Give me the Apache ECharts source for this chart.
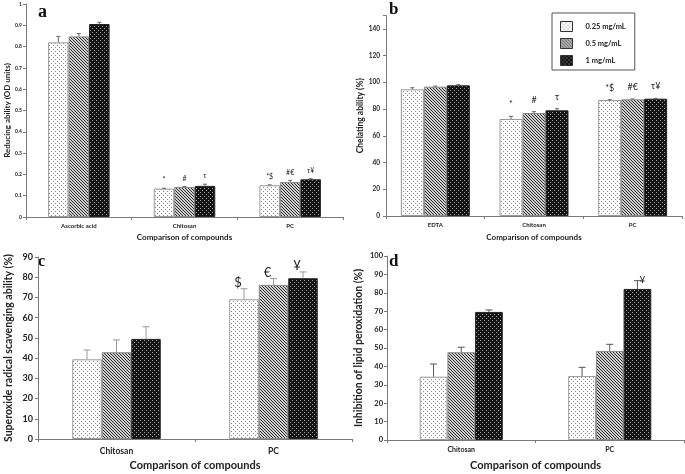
<!DOCTYPE html>
<html><head><meta charset="utf-8">
<script src="https://cdn.jsdelivr.net/npm/echarts@6/dist/echarts.min.js"></script>
<style>html,body{margin:0;padding:0;background:#fff}#c{width:685px;height:474px}</style>
</head><body><div id="c"></div>
<script>
// ---------- data ----------
const seriesNames = ['0.25 mg/mL', '0.5 mg/mL', '1 mg/mL'];

// Panel a: reducing ability
const catsA = ['Ascorbic acid', 'Chitosan', 'PC'];
const a025 = [0.82, 0.133, 0.149];
const a05 = [0.848, 0.141, 0.164];
const a1 = [0.906, 0.146, 0.177];
const errA025 = [0.028, 0.002, 0.002];
const errA05 = [0.013, 0.002, 0.008];
const errA1 = [0.008, 0.008, 0.003];
const annA025 = ['', '*', '*$'];
const annA05 = ['', '#', '#€'];
const annA1 = ['', 'τ', 'τ¥'];
const ticksA = [0, 1, 0.1];

// Panel b: chelating ability
const catsB = ['EDTA', 'Chitosan', 'PC'];
const b025 = [94.8, 72.6, 86.8];
const b05 = [96.8, 77.1, 87.3];
const b1 = [97.8, 79.1, 87.8];
const errB025 = [1.2, 2.0, 0.3];
const errB05 = [0.4, 1.0, 0.3];
const errB1 = [0.5, 1.2, 0.3];
const annB025 = ['', '*', '*$'];
const annB05 = ['', '#', '#€'];
const annB1 = ['', 'τ', 'τ¥'];
const ticksB = [0, 150, 20];

// Panel c: superoxide radical scavenging
const catsC = ['Chitosan', 'PC'];
const c025 = [39.4, 69.1];
const c05 = [42.9, 76.2];
const c1 = [49.5, 79.5];
const errC025 = [4.6, 5.2];
const errC05 = [6.1, 3.1];
const errC1 = [6.0, 3.1];
const annC025 = ['', '$'];
const annC05 = ['', '€'];
const annC1 = ['', '¥'];
const ticksC = [0, 90, 10];

// Panel d: inhibition of lipid peroxidation
const catsD = ['Chitosan', 'PC'];
const d025 = [34.4, 34.8];
const d05 = [47.7, 48.4];
const d1 = [69.6, 82.1];
const errD025 = [6.9, 4.7];
const errD05 = [2.7, 3.6];
const errD1 = [1.1, 4.5];
const annD025 = ['', ''];
const annD05 = ['', ''];
const annD1 = ['', '¥'];
const ticksD = [0, 100, 10];

// ---------- patterns ----------
function pattern(size, bg, fg, pts) {
  const cv = document.createElement('canvas');
  cv.width = size; cv.height = size;
  const ctx = cv.getContext('2d');
  ctx.fillStyle = bg; ctx.fillRect(0, 0, size, size);
  ctx.fillStyle = fg;
  pts.forEach(p => ctx.fillRect(p[0], p[1], 1, 1));
  return { image: cv, repeat: 'repeat' };
}
const fills = [
  pattern(4, '#ffffff', '#8a8a8a', [[1, 1], [3, 3]]),
  pattern(3, '#cfcfcf', '#2e2e2e', [[0, 0], [1, 1], [2, 2]]),
  pattern(4, '#141414', '#a0a0a0', [[0, 0], [2, 2]])
];
const borders = ['#9a9a9a', '#8a8a8a', '#222222'];

const FONT = 'Lato, "DejaVu Sans", sans-serif';

const panels = [
  { cats: catsA, vals: [a025, a05, a1], errs: [errA025, errA05, errA1], anns: [annA025, annA05, annA1], ticks: ticksA,
    grid: { left: 26, top: 4, width: 317, height: 213 }, bw: 20.5,
    yName: 'Reducing ability (OD units)', yNameSize: 8, yNameGap: 14, yLabSize: 5, yLabMargin: 4,
    xLabSize: 6, xLabMargin: 6, xNameSize: 8, xNameGap: 16,
    errColor: '#666', cap: 2, annSize: 7, annDx: 0, annDy: 8 },
  { cats: catsB, vals: [b025, b05, b1], errs: [errB025, errB05, errB1], anns: [annB025, annB05, annB1], ticks: ticksB,
    grid: { left: 386, top: 15.6, width: 296, height: 200.4 }, bw: 23,
    yName: 'Chelating ability (%)', yNameSize: 8.5, yNameGap: 20, yLabSize: 6.5, yLabMargin: 6,
    xLabSize: 6, xLabMargin: 6, xNameSize: 8, xNameGap: 17, hideTop: true,
    errColor: '#666', cap: 2, annSize: 9, annDx: 0, annDy: 12 },
  { cats: catsC, vals: [c025, c05, c1], errs: [errC025, errC05, errC1], anns: [annC025, annC05, annC1], ticks: ticksC,
    grid: { left: 38, top: 257, width: 314, height: 182 }, bw: 29.5,
    yName: 'Superoxide radical scavenging ability (%)', yNameSize: 10.5, yNameGap: 24, yLabSize: 9, yLabMargin: 5,
    xLabSize: 8.5, xLabMargin: 8, xNameSize: 11, xNameGap: 21,
    errColor: '#999', cap: 3.5, annSize: 13, annDx: -6, annDy: 6 },
  { cats: catsD, vals: [d025, d05, d1], errs: [errD025, errD05, errD1], anns: [annD025, annD05, annD1], ticks: ticksD,
    grid: { left: 387, top: 256, width: 297, height: 184 }, bw: 27.7,
    yName: 'Inhibition of lipid peroxidation (%)', yNameSize: 10.5, yNameGap: 23, yLabSize: 7.5, yLabMargin: 4,
    xLabSize: 7, xLabMargin: 6, xNameSize: 11, xNameGap: 20,
    errColor: '#555', cap: 3.5, annSize: 10, annDx: 5, annDy: 1 }
];

const grids = [], xAxes = [], yAxes = [], series = [];
const axisLine = { show: true, lineStyle: { color: '#7a7a7a', width: 1 } };

panels.forEach((p, pi) => {
  grids.push(Object.assign({ containLabel: false }, p.grid));
  xAxes.push({
    type: 'category', gridIndex: pi, data: p.cats,
    name: 'Comparison of compounds', nameLocation: 'middle', nameGap: p.xNameGap,
    nameTextStyle: { fontFamily: FONT, fontWeight: 'bold', fontSize: p.xNameSize, color: '#222' },
    axisLine: axisLine, axisTick: { show: true, length: 3, lineStyle: { color: '#7a7a7a' } },
    axisLabel: { fontFamily: FONT, fontWeight: 'bold', fontSize: p.xLabSize, color: '#222', margin: p.xLabMargin, interval: 0 },
    splitLine: { show: false }
  });
  yAxes.push({
    type: 'value', gridIndex: pi, min: p.ticks[0], max: p.ticks[1], interval: p.ticks[2],
    name: p.yName, nameLocation: 'middle', nameGap: p.yNameGap,
    nameTextStyle: { fontFamily: FONT, fontWeight: 'bold', fontSize: p.yNameSize, color: '#222' },
    axisLine: axisLine, axisTick: { show: true, length: 3, lineStyle: { color: '#7a7a7a' } },
    axisLabel: { fontFamily: FONT, fontWeight: 'bold', fontSize: p.yLabSize, color: '#222', margin: p.yLabMargin,
      formatter: v => (p.hideTop && v > 140) ? '' : String(Math.round(v * 10) / 10) },
    splitLine: { show: false }
  });
  for (let k = 0; k < 3; k++) {
    series.push({
      type: 'bar', name: seriesNames[k], xAxisIndex: pi, yAxisIndex: pi,
      data: p.vals[k], barWidth: p.bw, barGap: '0%',
      itemStyle: { color: fills[k], borderColor: borders[k], borderWidth: 1 },
      emphasis: { disabled: true }, silent: true
    });
  }
  for (let k = 0; k < 3; k++) {
    const errs = p.errs[k], anns = p.anns[k], vals = p.vals[k];
    series.push({
      type: 'custom', name: 'err' + pi + '_' + k, xAxisIndex: pi, yAxisIndex: pi, silent: true, z: 5,
      data: vals.map((v, i) => [i, v, errs[i]]),
      renderItem: (params, api) => {
        const i = api.value(0), v = api.value(1), e = api.value(2);
        const base = api.coord([i, v]);
        const top = api.coord([i, v + e]);
        const x = base[0] + (k - 1) * p.bw;
        const ch = [
          { type: 'line', shape: { x1: x, y1: base[1], x2: x, y2: top[1] }, style: { stroke: p.errColor, lineWidth: 1 } },
          { type: 'line', shape: { x1: x - p.cap, y1: top[1], x2: x + p.cap, y2: top[1] }, style: { stroke: p.errColor, lineWidth: 1 } }
        ];
        const a = anns[params.dataIndex];
        if (a) ch.push({ type: 'text', x: x + p.annDx, y: top[1] - p.annDy,
          style: { text: a, fill: '#222', fontFamily: FONT, fontSize: p.annSize, align: 'center', verticalAlign: 'middle' } });
        return { type: 'group', children: ch };
      }
    });
  }
});

const letter = (t, x, y, s) => ({ type: 'text', left: x, top: y,
  style: { text: t, fontFamily: '"Liberation Serif", serif', fontWeight: 'bold', fontSize: s, fill: '#111' } });

const chart = echarts.init(document.getElementById('c'), null, { renderer: 'canvas' });
chart.setOption({
  animation: false,
  backgroundColor: '#fff',
  grid: grids, xAxis: xAxes, yAxis: yAxes, series: series,
  legend: {
    data: seriesNames, orient: 'vertical', left: 552, top: 13,
    itemWidth: 12, itemHeight: 10, itemGap: 6, icon: 'rect',
    itemStyle: { borderColor: '#333', borderWidth: 1 },
    padding: [8, 9, 4, 8], borderColor: '#555', borderWidth: 1,
    textStyle: { fontFamily: FONT, fontWeight: 'bold', fontSize: 7.5, color: '#222', padding: [0, 0, 0, 8] },
    selectedMode: false
  },
  graphic: [
    letter('a', 38, 3, 18),
    letter('b', 389, 1, 17),
    letter('c', 38, 254, 16),
    letter('d', 389, 253, 17)
  ]
});
</script></body></html>
